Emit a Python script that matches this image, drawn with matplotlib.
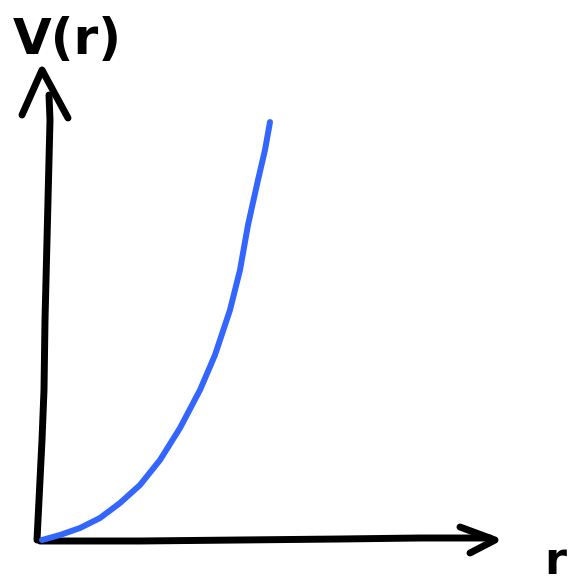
import matplotlib.pyplot as plt
import numpy as np

# hand-drawn curve V(r), in data units (origin at the corner of the axes)
r = [2, 20, 40, 60, 80, 100, 120, 140, 160, 175, 190, 200, 208, 218, 225, 230]
V = [0, 5, 12, 22, 37, 55, 80, 112, 150, 185, 230, 270, 315, 360, 390, 418]

# sketched axes
yaxis_x = [-3, -1, 2, 4, 5, 7, 9, 10, 9]
yaxis_y = [0, 40, 100, 150, 220, 300, 380, 420, 445]
xaxis_x = [0, 100, 200, 300, 380, 450]
xaxis_y = [-1, -1, 0, 1, 2, 2]
yhead_x = [-18, 2, 28]
yhead_y = [425, 470, 422]
xhead_x = [420, 455, 430]
xhead_y = [13, 0, -13]

fig = plt.figure(figsize=(5.78, 5.86), dpi=100)
ax = fig.add_axes([0, 0, 1, 1])
ax.set_xlim(-40, 538)
ax.set_ylim(-46, 540)
ax.axis('off')

black = dict(color='black', lw=5, solid_capstyle='round', solid_joinstyle='round')
ax.plot(yaxis_x, yaxis_y, **black)
ax.plot(xaxis_x, xaxis_y, **black)
ax.plot(yhead_x, yhead_y, **black)
ax.plot(xhead_x, xhead_y, **black)

ax.plot(r, V, color='#3366ff', lw=4.3, solid_capstyle='round', solid_joinstyle='round')

ax.text(27, 500, 'V(r)', fontsize=36, fontweight='bold', ha='center', va='center')
ax.text(515, -22, 'r', fontsize=32, fontweight='bold', ha='center', va='center')

fig.savefig('out.png', dpi=100)
